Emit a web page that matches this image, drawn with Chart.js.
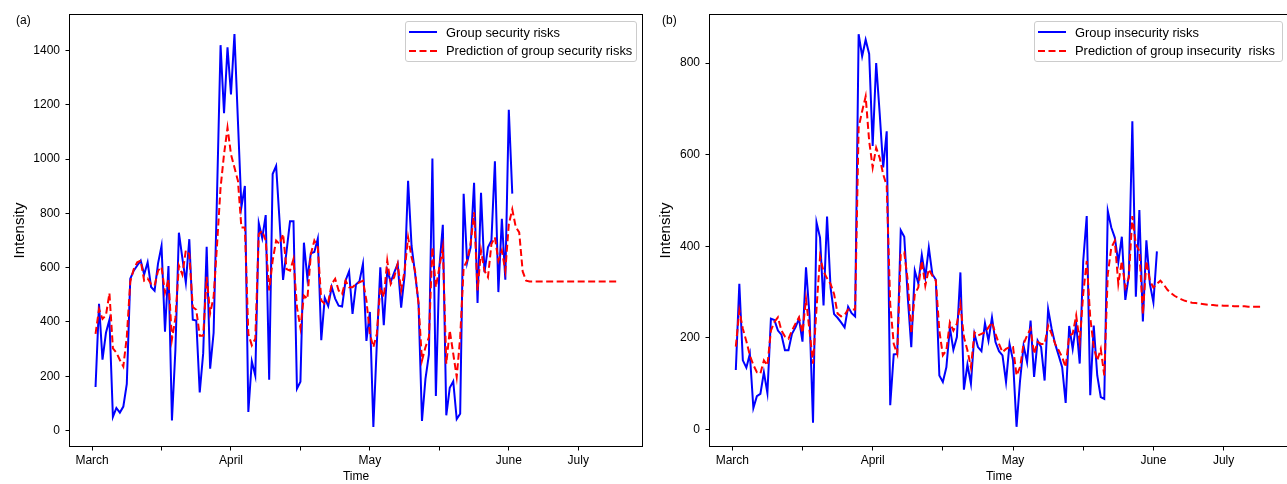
<!DOCTYPE html>
<html><head><meta charset="utf-8">
<script src="https://cdn.jsdelivr.net/npm/chart.js@4.4.1/dist/chart.umd.min.js"></script>
<style>
html,body{margin:0;padding:0;width:1287px;height:484px;overflow:hidden;background:#fff;font-family:"Liberation Sans",Arial,sans-serif;}
.wrap{position:absolute;top:0;height:484px;}
#wa{left:0;width:645px;}
#wb{left:645px;width:650px;}
.panel{position:absolute;font-size:12px;line-height:14px;color:#000;}
.legend{position:absolute;border:1px solid #cccccc;border-radius:3px;background:rgba(255,255,255,0.8);box-sizing:border-box;}
.row{position:absolute;left:3px;height:16px;display:flex;align-items:center;white-space:pre;font-size:12.9px;color:#000;}
.row svg{margin-right:9px;}
</style></head><body>
<div id="wa" class="wrap"><canvas id="ca"></canvas></div>
<div id="wb" class="wrap"><canvas id="cb"></canvas></div>
<div class="panel" style="left:16px;top:13px">(a)</div>
<div class="panel" style="left:662px;top:13px">(b)</div>
<div id="la" class="legend" style="left:405px;top:21px;width:232px;height:41px"></div>
<div id="lb" class="legend" style="left:1034px;top:21px;width:249px;height:41px"></div>
<script>
// ---- data ----
const xTickValues = [0, 20, 40, 60, 80, 100, 120, 140];
const xTickLabels = ['March', '', 'April', '', 'May', '', 'June', 'July'];
const yTicksA = [0, 200, 400, 600, 800, 1000, 1200, 1400];
const yTicksB = [0, 200, 400, 600, 800];
const seriesNamesA = ['Group security risks', 'Prediction of group security risks'];
const seriesNamesB = ['Group insecurity risks', 'Prediction of group insecurity  risks'];

const blueA = [
160,467,261,360,408,50,83,66,88,172,
559,589,608,626,575,620,529,515,616,680,
364,606,37,298,729,635,545,705,408,405,
140,285,677,228,360,880,1420,1169,1412,1238,
1461,1140,824,901,68,255,202,764,709,794,
187,945,975,770,555,660,771,771,154,180,
692,560,653,658,707,333,489,459,529,486,
460,457,553,586,430,538,550,614,330,437,
13,320,601,388,590,548,582,614,453,572,
920,680,580,470,35,190,280,1002,127,600,
758,56,157,181,42,62,872,620,675,913,
470,876,583,675,700,992,510,780,556,1182,
873];

const redA = [
356,447,411,425,506,303,287,260,236,345,
548,595,620,626,552,560,540,534,589,603,
508,556,336,415,608,575,664,650,455,445,
349,349,566,432,492,687,895,1018,1116,1018,
969,920,748,748,356,314,338,724,736,700,
516,626,700,687,724,595,589,632,454,378,
497,485,650,700,675,479,467,473,540,559,
516,503,552,528,528,540,546,552,479,356,
307,356,528,491,626,540,565,614,516,589,
712,638,589,467,258,307,344,675,528,601,
675,246,369,283,197,344,601,626,687,804,
516,663,589,565,687,712,626,663,589,760,
815,750,730,586,552,549,549,549,549,549,
549,549,549,549,549,549,549,549,549,549,
549,549,549,549,549,549,549,549,549,549,549];

const blueB = [
130,318,151,135,165,47,73,78,125,80,
242,239,216,207,173,173,209,223,242,192,
354,250,15,452,419,271,465,310,252,244,
234,223,268,254,247,863,815,851,820,619,
800,690,572,651,53,164,165,435,421,289,
180,347,319,381,332,397,339,327,118,104,
136,223,174,202,343,87,142,100,209,180,
171,232,194,245,191,171,162,104,187,151,
6,107,183,147,238,115,194,180,107,263,
220,187,162,136,58,226,176,231,144,368,
466,75,227,118,71,67,477,441,419,365,
421,283,336,673,290,479,236,413,318,278,
389];

const redB = [
181,260,220,193,162,141,125,122,151,140,
216,235,245,216,203,198,216,231,245,211,
285,216,144,264,377,345,330,318,296,253,
247,250,262,262,262,659,695,727,630,572,
615,593,557,532,274,187,165,383,387,325,
209,296,310,368,314,350,336,325,216,162,
173,234,216,231,274,202,173,136,212,205,
209,212,223,234,209,187,169,176,180,180,
118,136,187,205,220,165,191,187,187,227,
209,187,173,158,136,205,209,249,191,296,
368,245,180,151,176,118,339,397,412,318,
368,310,332,466,404,390,252,368,325,310,
318,325,316,305,298,292,288,284,281,279,
277,276,275,274,273,272,272,271,271,270,
270,270,269,269,269,269,268,268,268,268,268];

// ---- chart ----
Chart.defaults.font.family = "'Liberation Sans', Arial, sans-serif";
Chart.defaults.color = '#000';

const framePlugin = {
  id: 'frame',
  afterDraw(chart) {
    const {ctx, chartArea: a} = chart;
    ctx.save();
    ctx.strokeStyle = '#000';
    ctx.lineWidth = 1;
    ctx.strokeRect(a.left, a.top, a.right - a.left, a.bottom - a.top);
    ctx.restore();
  }
};

function toPoints(arr) { return arr.map((v, k) => ({x: k + 1, y: v})); }

function makeChart(id, blue, red, names, yMin, yMax, yTicks, leftW, rightPad, titlePad) {
  return new Chart(document.getElementById(id), {
    type: 'line',
    data: {
      datasets: [
        {label: names[0], data: toPoints(blue), borderColor: '#0000ff', borderWidth: 2,
         pointRadius: 0, tension: 0, fill: false, order: 1},
        {label: names[1], data: toPoints(red), borderColor: '#ff0000', borderWidth: 2,
         borderDash: [7, 3.5], pointRadius: 0, tension: 0, fill: false, order: 0}
      ]
    },
    options: {
      responsive: true,
      maintainAspectRatio: false,
      animation: false,
      events: [],
      layout: {padding: {top: 14.5, right: rightPad, bottom: 0, left: 0}},
      plugins: {legend: {display: false}, tooltip: {enabled: false}},
      scales: {
        x: {
          type: 'linear', min: -6.5, max: 158.5,
          afterBuildTicks: s => { s.ticks = xTickValues.map(v => ({value: v})); },
          afterFit: s => { s.height = 37.5; },
          ticks: {autoSkip: false, maxRotation: 0, padding: 3, font: {size: 12},
                  callback: v => { const k = xTickValues.indexOf(v); return k >= 0 ? xTickLabels[k] : ''; }},
          grid: {drawOnChartArea: false, drawTicks: true, tickLength: 4, color: '#000'},
          border: {display: false},
          title: {display: true, text: 'Time', font: {size: 12}, padding: {top: 0, bottom: 0}}
        },
        y: {
          type: 'linear', min: yMin, max: yMax,
          afterBuildTicks: s => { s.ticks = yTicks.map(v => ({value: v})); },
          afterFit: s => { s.width = leftW; },
          ticks: {padding: 5.5, font: {size: 12}, callback: v => String(v)},
          grid: {drawOnChartArea: false, drawTicks: true, tickLength: 4, color: '#000'},
          border: {display: false},
          title: {display: true, text: 'Intensity', font: {size: 15}, padding: {top: titlePad, bottom: 0}}
        }
      }
    },
    plugins: [framePlugin]
  });
}

const chartA = makeChart('ca', blueA, redA, seriesNamesA, -59, 1533, yTicksA, 69.5, 2.5, 11);
const chartB = makeChart('cb', blueB, redB, seriesNamesB, -37, 906, yTicksB, 64.5, 6.5, 11.5);

function buildLegend(el, chart) {
  chart.data.datasets.forEach((ds, k) => {
    const row = document.createElement('div');
    row.className = 'row';
    row.style.top = (k === 0 ? 2 : 20.5) + 'px';
    const dash = ds.borderDash ? ` stroke-dasharray="${ds.borderDash.join(' ')}"` : '';
    row.innerHTML = `<svg width="28" height="4"><line x1="0" y1="2" x2="28" y2="2" stroke="${ds.borderColor}" stroke-width="${ds.borderWidth}"${dash}/></svg>`;
    const span = document.createElement('span');
    span.textContent = ds.label;
    row.appendChild(span);
    el.appendChild(row);
  });
}
buildLegend(document.getElementById('la'), chartA);
buildLegend(document.getElementById('lb'), chartB);
</script>
</body></html>
